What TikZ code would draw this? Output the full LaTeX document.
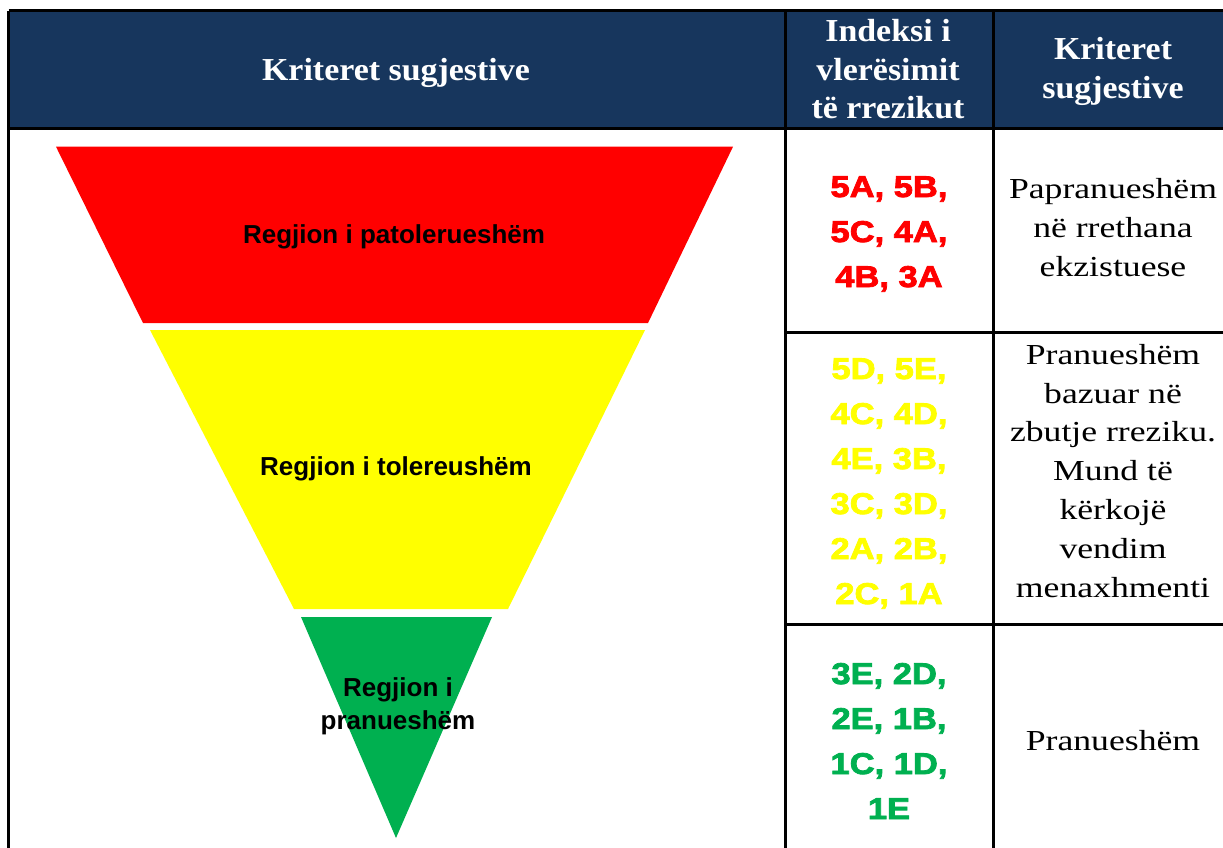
\documentclass[tikz,border=0pt]{standalone}
\usepackage{fontspec}
\setmainfont{Liberation Serif}
\newfontfamily\hdfont{Liberation Serif}[FakeStretch=1.06]
\newfontfamily\bodyfont{Liberation Serif}[FakeStretch=1.23]
\newfontfamily\lblfont{Liberation Sans}
\newfontfamily\codefont{Liberation Sans}[FakeStretch=1.15,FakeBold=2.6]
\definecolor{navy}{RGB}{23,54,93}
\definecolor{rred}{RGB}{255,0,0}
\definecolor{ryellow}{RGB}{255,255,0}
\definecolor{rgreen}{RGB}{0,176,80}
\begin{document}
\begin{tikzpicture}[x=1pt,y=-1pt,
  grid/.style={line width=3pt, black},
  hd/.style={text=white, font=\hdfont\bfseries\fontsize{32}{38.5}\selectfont, align=center, anchor=base, inner sep=0pt},
  code/.style={font=\codefont\bfseries\fontsize{30}{45}\selectfont, align=center, anchor=base, inner sep=0pt},
  body/.style={font=\bodyfont\fontsize{29}{38.8}\selectfont, align=center, anchor=base, inner sep=0pt},
  lbl/.style={font=\lblfont\bfseries\fontsize{26}{33}\selectfont, align=center, anchor=base, inner sep=0pt}]
\useasboundingbox (0,0) rectangle (1223,847);
\clip (0,0) rectangle (1223,847);
% header background
\fill[navy] (8.7,10.8) rectangle (1240,128);
% pyramid
\fill[rred] (56,146.7) -- (733,146.7) -- (648,323) -- (143,323) -- cycle;
\fill[ryellow] (150,330) -- (645,330) -- (508,609) -- (294,609) -- cycle;
\fill[rgreen] (301,617) -- (492,617) -- (396,838) -- cycle;
% grid
\draw[grid] (8.7,10.8) -- (1240,10.8);
\draw[grid] (8.7,10.8) -- (8.7,860);
\draw[grid] (8.7,128) -- (1240,128);
\draw[grid] (785.3,10.8) -- (785.3,860);
\draw[grid] (993.3,10.8) -- (993.3,860);
\draw[grid] (1233,10.8) -- (1233,860);
\draw[grid] (785.3,332) -- (1240,332);
\draw[grid] (785.3,624.7) -- (1240,624.7);
\draw[grid] (8.7,857) -- (1240,857);
% header texts (base = last line baseline)
\node[hd] (h1) at (396,80.5) {Kriteret sugjestive};
\node[hd] (h2) at (888,118.5) {Indeksi i\\vlerësimit\\të rrezikut};
\node[hd] (h3) at (1113,98) {Kriteret\\sugjestive};
% region labels
\node[lbl] (lr) at (394,243) {Regjion i patolerueshëm};
\node[lbl] (ly) at (396,475) {Regjion i tolereushëm};
\node[lbl] (lg) at (398,729) {Regjion i\\pranueshëm};
% codes
\node[code,text=rred] (c1) at (889,287) {5A, 5B,\\5C, 4A,\\4B, 3A};
\node[code,text=ryellow] (c2) at (889,604) {5D, 5E,\\4C, 4D,\\4E, 3B,\\3C, 3D,\\2A, 2B,\\2C, 1A};
\node[code,text=rgreen] (c3) at (889,819) {3E, 2D,\\2E, 1B,\\1C, 1D,\\1E};
% criteria
\node[body] (b1) at (1113,276) {Papranueshëm\\në rrethana\\ekzistuese};
\node[body] (b2) at (1113,597) {Pranueshëm\\bazuar në\\zbutje rreziku.\\Mund të\\kërkojë\\vendim\\menaxhmenti};
\node[body] (b3) at (1113,750) {Pranueshëm};
\end{tikzpicture}
\end{document}
